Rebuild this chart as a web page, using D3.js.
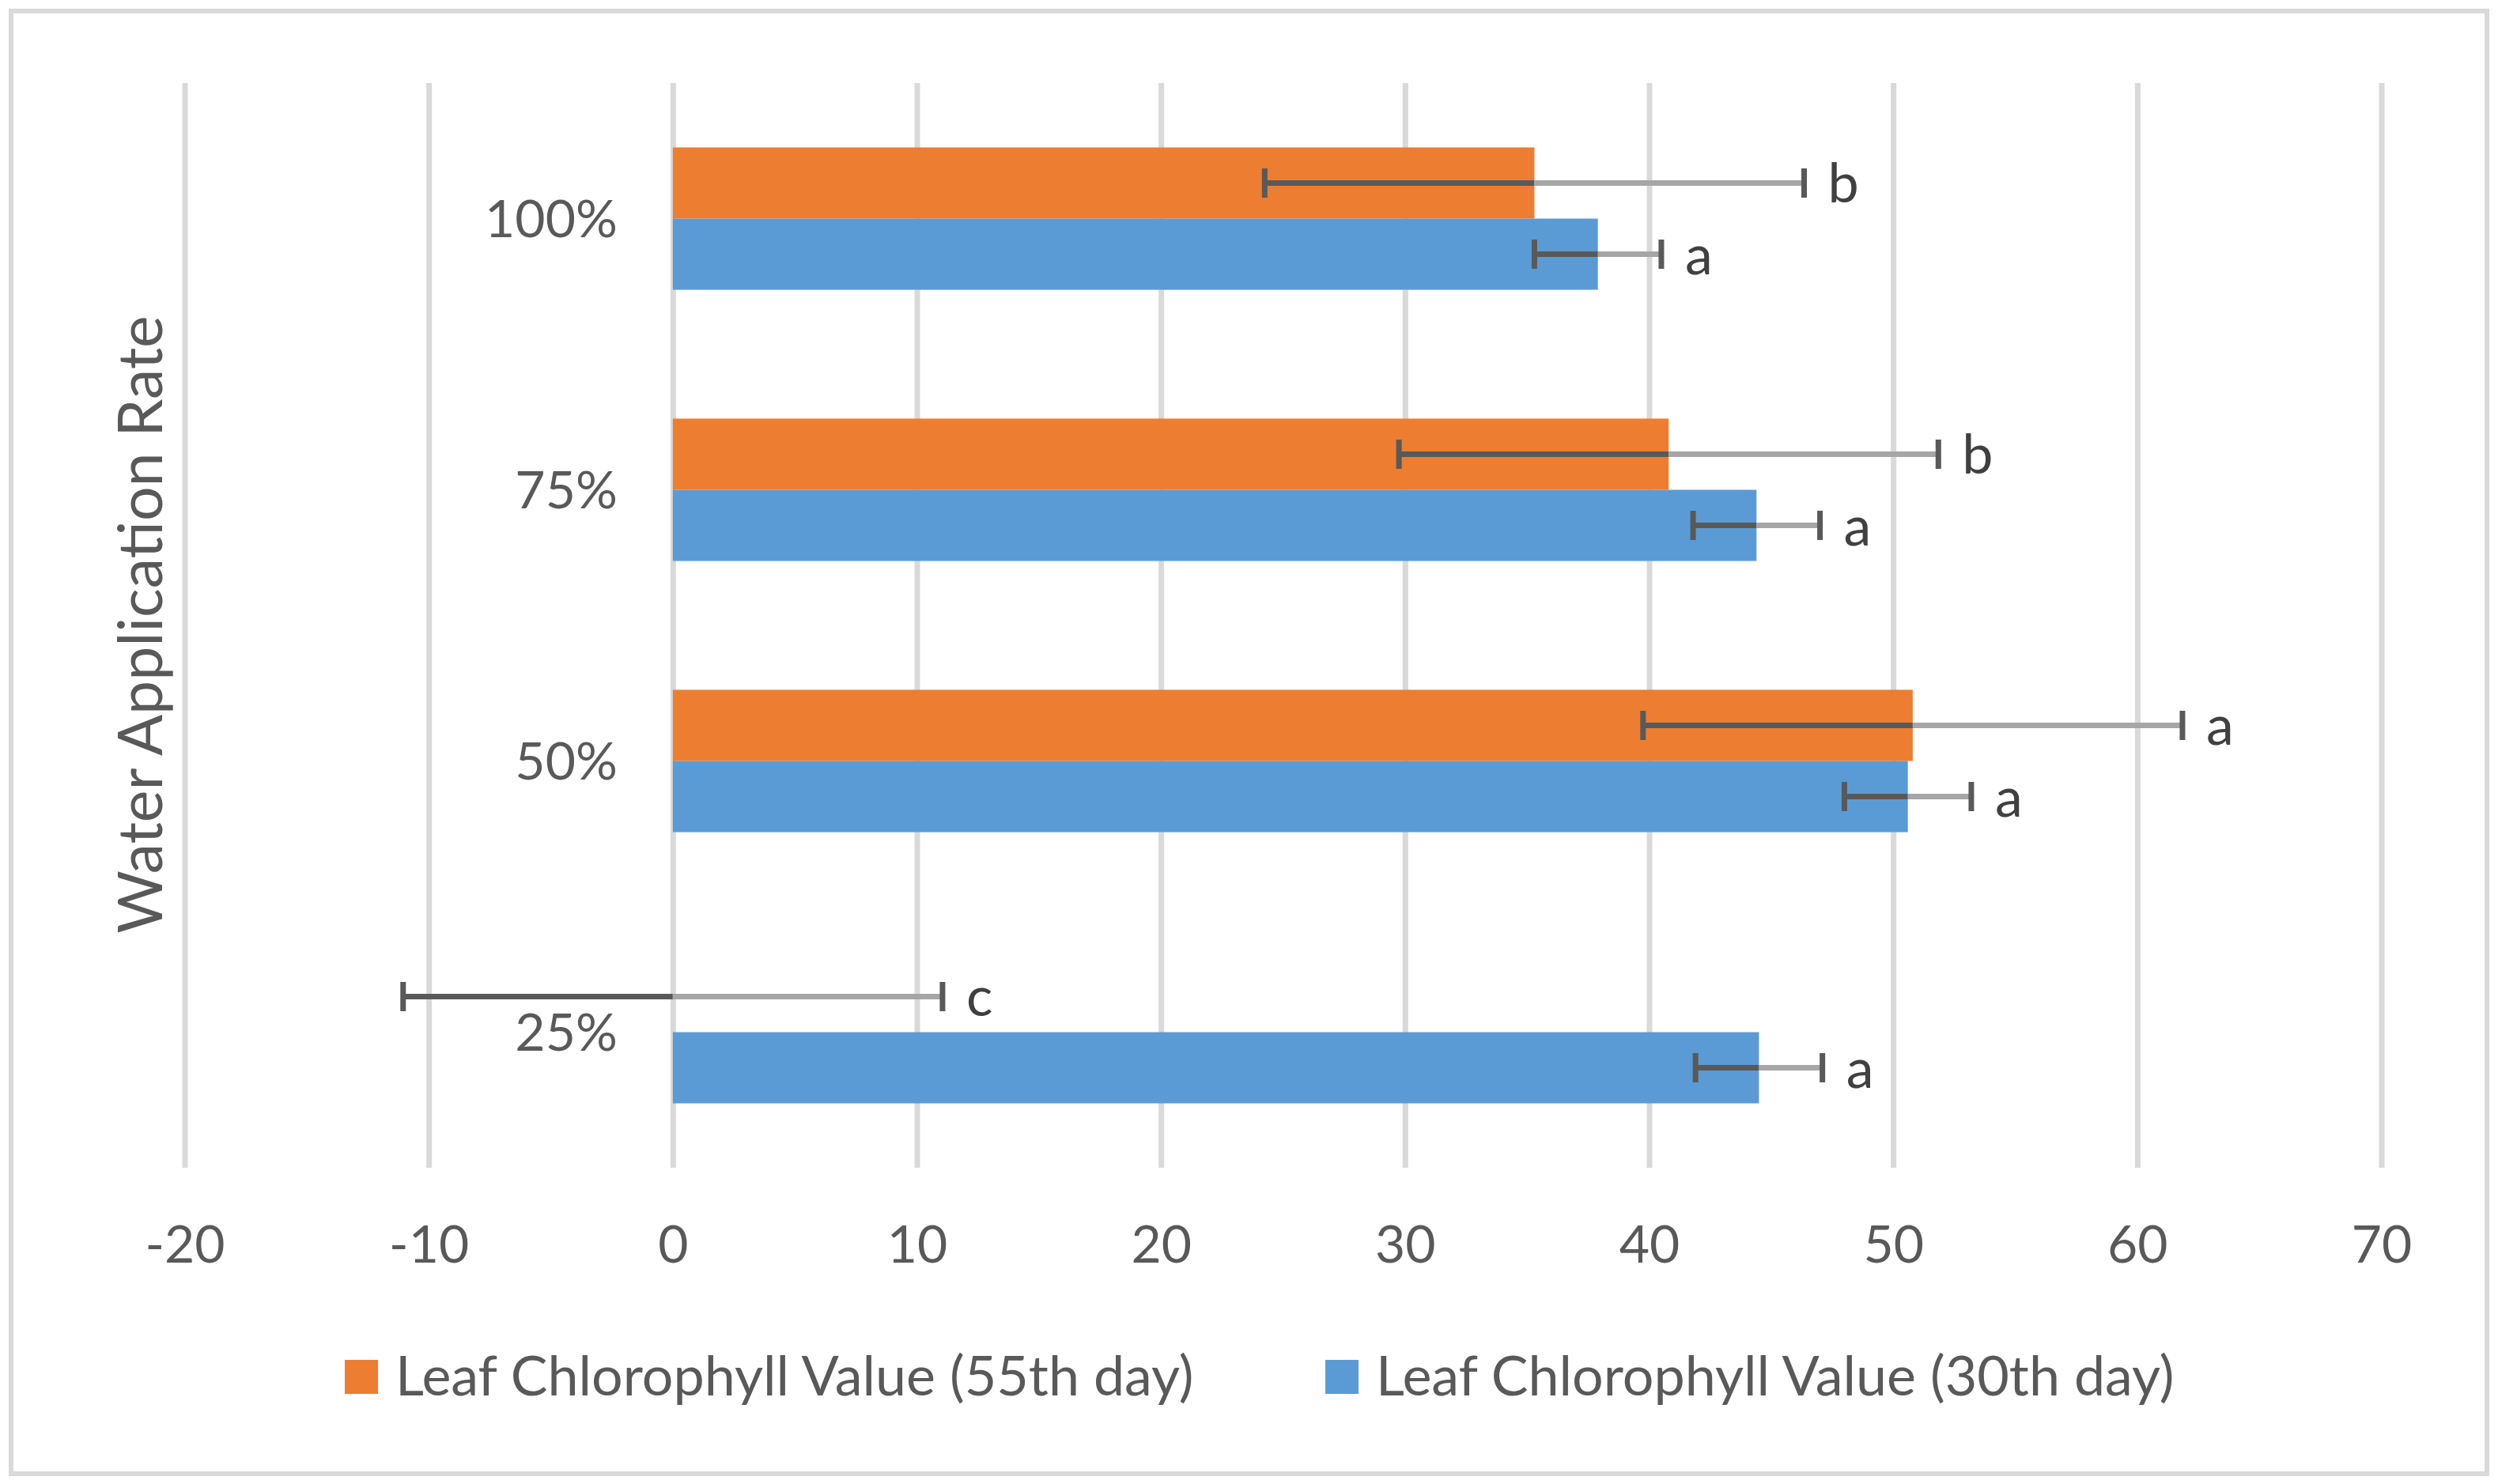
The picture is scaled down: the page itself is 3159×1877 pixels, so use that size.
<!DOCTYPE html>
<html>
<head>
<meta charset="utf-8">
<script src="https://cdn.jsdelivr.net/npm/d3@7"></script>
<style>
  body { margin: 0; background: #fff; }
  text { font-family: Lato, "Open Sans", sans-serif; }
</style>
</head>
<body>
<svg id="chart" width="3159" height="1877"></svg>
<script>
// Werte
const rates = ["100%", "75%", "50%", "25%"];
const day55 = [35.3, 40.8, 50.8, 0];
const day30 = [37.9, 44.4, 50.6, 44.5];
const err55 = [11.05, 11.05, 11.05, 11.05];
const err30 = [2.6, 2.6, 2.6, 2.6];
const letters55 = ["b", "b", "a", "c"];
const letters30 = ["a", "a", "a", "a"];
const xTicks = [-20, -10, 0, 10, 20, 30, 40, 50, 60, 70];
const seriesNames = ["Leaf Chlorophyll Value (55th day)", "Leaf Chlorophyll Value (30th day)"];
const seriesKeys = ["d55", "d30"];
const colors = { d55: "#ED7D31", d30: "#5B9BD5" };

let svg = d3.select("#chart"),
    plotTop = 105,
    plotBottom = 1477,
    fontSize = 66;

// Rahmen
svg.append("rect")
    .attr("x", 14).attr("y", 14)
    .attr("width", 3131).attr("height", 1850)
    .attr("fill", "#fff")
    .attr("stroke", "#d9d9d9")
    .attr("stroke-width", 6);

let xScale = d3.scaleLinear()
    .domain([-20, 70])
    .range([233.5, 3011.5]);

let yScale = d3.scaleBand()
    .domain(rates)
    .range([plotTop, plotBottom])
    .paddingInner(0.475)
    .paddingOuter(0.2375);

let ySub = d3.scaleBand()
    .domain(seriesKeys)
    .range([0, yScale.bandwidth()]);

// Gitterlinien
let grid = d3.axisBottom(xScale)
    .tickValues(xTicks)
    .tickSize(-(plotBottom - plotTop))
    .tickFormat("");

svg.append("g")
    .attr("class", "grid")
    .attr("transform", `translate(0,${plotBottom})`)
    .call(grid)
    .call(g => g.select(".domain").remove())
    .call(g => g.selectAll("line").attr("stroke", "#d9d9d9").attr("stroke-width", 7));

// X-Achse Beschriftung
let xAxis = d3.axisBottom(xScale)
    .tickValues(xTicks)
    .tickSize(0)
    .tickFormat(d => String(d));

svg.append("g")
    .attr("transform", `translate(0,${plotBottom})`)
    .call(xAxis)
    .call(g => g.select(".domain").remove())
    .call(g => g.selectAll("text")
        .attr("y", 120)
        .attr("dy", null)
        .attr("fill", "#595959")
        .style("font-size", fontSize + "px"));

// Daten-Tabelle
let data = rates.map((r, i) => ({
    rate: r,
    d55: { v: day55[i], e: err55[i], l: letters55[i] },
    d30: { v: day30[i], e: err30[i], l: letters30[i] }
}));

let groups = svg.selectAll(".grp")
    .data(data)
    .enter()
    .append("g")
    .attr("class", "grp")
    .attr("transform", d => `translate(0,${yScale(d.rate)})`);

// Balken
groups.selectAll("rect")
    .data(d => seriesKeys.map(k => ({ key: k, ...d[k] })))
    .enter()
    .append("rect")
    .attr("x", d => xScale(Math.min(0, d.v)))
    .attr("y", d => ySub(d.key))
    .attr("width", d => Math.abs(xScale(d.v) - xScale(0)))
    .attr("height", ySub.bandwidth())
    .attr("fill", d => colors[d.key]);

// Kategorien (links der Null-Linie)
svg.selectAll(".cat")
    .data(rates)
    .enter()
    .append("text")
    .attr("class", "cat")
    .attr("x", xScale(0) - 70)
    .attr("y", d => yScale(d) + yScale.bandwidth() / 2 + 23)
    .attr("text-anchor", "end")
    .attr("fill", "#595959")
    .style("font-size", fontSize + "px")
    .text(d => d);

// Fehlerbalken
let eb = groups.selectAll(".err")
    .data(d => seriesKeys.map(k => ({ key: k, ...d[k] })))
    .enter()
    .append("g")
    .attr("class", "err")
    .attr("transform", d => `translate(0,${ySub(d.key) + ySub.bandwidth() / 2})`);

let capH = 37;

eb.append("line")
    .attr("x1", d => xScale(d.v - d.e))
    .attr("x2", d => xScale(d.v))
    .attr("y1", 0).attr("y2", 0)
    .attr("stroke", "#595959")
    .attr("stroke-width", 7);

eb.append("line")
    .attr("x1", d => xScale(d.v))
    .attr("x2", d => xScale(d.v + d.e))
    .attr("y1", 0).attr("y2", 0)
    .attr("stroke", "#a6a6a6")
    .attr("stroke-width", 7);

eb.selectAll(".cap")
    .data(d => [d.v - d.e, d.v + d.e])
    .enter()
    .append("line")
    .attr("x1", d => xScale(d))
    .attr("x2", d => xScale(d))
    .attr("y1", -capH / 2)
    .attr("y2", capH / 2)
    .attr("stroke", "#595959")
    .attr("stroke-width", 7);

// Buchstaben
eb.append("text")
    .attr("x", d => xScale(d.v + d.e) + 30)
    .attr("y", 25)
    .attr("fill", "#404040")
    .style("font-size", "70px")
    .text(d => d.l);

// Y-Titel
svg.append("text")
    .attr("transform", "translate(205,790) rotate(-90)")
    .attr("text-anchor", "middle")
    .attr("fill", "#595959")
    .style("font-size", "77px")
    .text("Water Application Rate");

// Legende
let legendX = [436, 1676];
let legend = svg.selectAll(".legend")
    .data(seriesKeys)
    .enter()
    .append("g")
    .attr("class", "legend")
    .attr("transform", (d, i) => `translate(${legendX[i]},1720)`);

legend.append("rect")
    .attr("width", 42)
    .attr("height", 43)
    .attr("fill", d => colors[d]);

legend.append("text")
    .attr("x", 64)
    .attr("y", 45)
    .attr("fill", "#595959")
    .style("font-size", "70px")
    .text((d, i) => seriesNames[i]);
</script>
</body>
</html>
